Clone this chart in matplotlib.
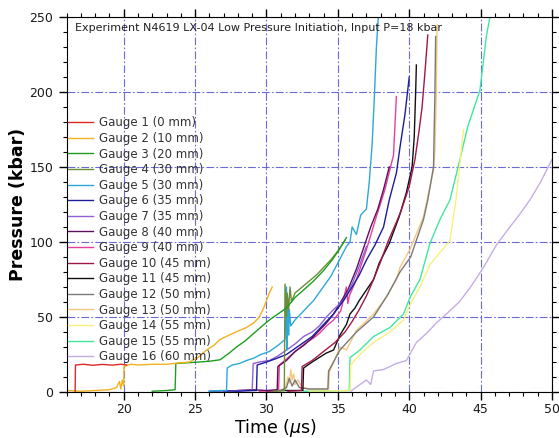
import numpy as np
import matplotlib
matplotlib.use('Agg')
import matplotlib.pyplot as plt
from matplotlib.ticker import MultipleLocator

# gauge records (time in us, pressure in kbar)
g1_t = [16.6, 16.62, 17.2, 17.8, 18.5, 19.2, 19.8, 20.2]
g1_p = [0.5, 18, 18.5, 17.8, 18.4, 17.9, 18.5, 18]

g2_t = [16.0, 17.0, 18.0, 19.0, 19.5, 19.7, 19.8, 19.9, 20.0, 20.02, 20.5, 21.0, 22.0, 23.0, 24.0, 24.6,
        25.2, 25.8, 26.3, 26.75, 27.4, 28.1, 28.6, 29.1, 29.5, 29.8, 30.0, 30.2, 30.4]
g2_p = [1, 0.5, 1, 1.5, 3, 7, 2, 8, 4, 17, 18.5, 18, 18.5, 18.5, 19.5, 20,
        23, 28, 31, 35, 38, 41, 43, 46, 50, 56, 61, 66, 70]

g3_t = [22.0, 23.0, 23.6, 23.65, 24.5, 25.3, 26.0, 26.75, 27.4, 27.9, 28.5, 29.1, 29.7, 30.2, 30.8,
        31.4, 32.0, 32.6, 33.3, 34.0, 34.6, 35.1, 35.6]
g3_p = [0.5, 1, 1.5, 19, 19.5, 20, 20.5, 21.5, 26, 30, 34, 39, 44, 48, 52,
        56, 63, 68, 74, 81, 88, 95, 103]

g4_t = [30.5, 31.25, 31.3, 31.4, 31.45, 31.55, 31.65, 31.75, 32.0, 32.5, 33.0, 33.5, 34.0, 34.5, 35.0, 35.5]
g4_p = [0.5, 1, 72, 50, 66, 55, 70, 60, 66, 70, 74, 78, 83, 88, 94, 101]

g5_t = [26.0, 26.8, 27.2, 27.25, 27.6, 28.1, 28.6, 29.1, 29.6, 30.2, 30.8, 31.3, 31.4, 31.45, 31.5,
        31.55, 31.6, 31.7, 32.0, 32.6, 33.3, 33.9, 34.5, 35.0, 35.6, 35.85, 36.0, 36.3, 36.6, 37.0,
        37.2, 37.4, 37.55, 37.7, 37.85]
g5_p = [0.5, 1, 1, 16, 18, 19, 21, 22.5, 25, 27, 31, 35, 70, 28, 62,
        38, 55, 44, 48, 54, 61, 69, 77, 86, 97, 100, 110, 105, 118, 122,
        140, 165, 195, 230, 252]

g6_t = [26.0, 27.0, 28.0, 29.0, 29.3, 29.35, 30.0, 30.6, 31.4, 32.0, 32.6, 33.2, 33.7, 34.2, 34.7,
        35.4, 36.0, 36.5, 37.0, 37.6, 38.2, 38.6, 39.1, 39.35, 39.7, 40.0]
g6_p = [0.5, 0.8, 0.5, 1, 1, 18, 20, 22, 25, 29, 33, 37, 42, 47, 52,
        61, 70, 78, 88, 98, 110, 128, 146, 163, 185, 210]

g7_t = [27.0, 28.0, 29.0, 29.07, 29.5, 30.2, 30.8, 31.4, 32.0, 32.6, 33.2, 33.7, 34.2, 34.7, 35.4,
        36.0, 36.5, 37.0]
g7_p = [0.5, 1, 1, 19, 20, 21, 24, 28, 32, 37, 40, 44, 50, 55, 61,
        72, 84, 97]

g8_t = [28.0, 29.0, 30.0, 30.75, 30.8, 31.4, 32.0, 32.6, 33.2, 33.7, 34.2, 34.7, 35.2, 35.7, 36.3,
        36.8, 37.3, 37.8, 38.2, 38.6]
g8_p = [1, 1.5, 1, 1.5, 17, 21, 27, 31, 36, 41, 46, 52, 60, 68, 82,
        96, 110, 122, 135, 150]

g9_t = [29.5, 30.85, 30.9, 31.4, 31.9, 32.4, 32.8, 33.3, 33.7, 34.2, 34.7, 35.2, 35.6, 35.7, 35.8,
        36.3, 37.0, 37.7, 38.3, 38.9, 39.0, 39.1]
g9_p = [0.5, 1, 18, 22, 26, 30, 33, 36, 39, 44, 48, 54, 70, 59, 64,
        75, 95, 117, 135, 158, 178, 197]

g10_t = [31.5, 32.45, 32.5, 33.2, 34.0, 34.8, 35.5, 36.0, 36.5, 37.0, 37.5, 38.0, 38.5, 39.0, 39.4,
         40.0, 40.4, 40.7, 40.9, 41.1, 41.3]
g10_p = [0.5, 1, 17, 21, 27, 33, 40, 47, 55, 64, 75, 87, 100, 111, 120,
         137, 155, 175, 190, 213, 238]

g11_t = [30.0, 31.0, 32.55, 32.6, 33.2, 33.7, 34.2, 34.7, 35.15, 35.6, 35.85, 36.2, 36.5, 37.0, 37.5,
         37.9, 38.6, 39.3, 39.8, 40.2, 40.35, 40.45, 40.5]
g11_p = [0.5, 1, 1, 16, 20, 23, 26, 28, 38, 45, 52, 56, 61, 68, 75,
         86, 99, 117, 133, 150, 170, 200, 218]

g12_t = [31.0, 31.4, 31.6, 31.8, 32.0, 32.3, 33.0, 34.3, 34.35, 35.15, 36.3, 37.5, 38.5, 39.35, 40.1,
         41.0, 41.3, 41.7, 41.8, 41.85]
g12_p = [1, 3, 9, 4, 8, 3, 2, 2, 14, 28, 40, 50, 65, 80, 90,
         115, 128, 150, 200, 237]

g13_t = [31.0, 31.3, 31.5, 31.6, 31.7, 31.8, 31.9, 32.0, 32.2, 32.5, 33.0, 34.0, 34.35, 34.4, 35.15,
         35.6, 36.3, 37.5, 38.4, 39.1, 39.35, 40.05, 41.0, 41.7, 41.8, 41.9, 41.95]
g13_p = [1, 2, 10, 6, 15, 8, 12, 5, 8, 3, 2, 2, 2, 13, 30,
         28, 41, 52, 63, 75, 83, 95, 117, 148, 161, 200, 245]

g14_t = [33.0, 35.85, 35.9, 36.55, 37.5, 38.65, 39.6, 40.05, 40.75, 41.45, 41.9, 42.85, 43.3, 43.8]
g14_p = [0.5, 1, 18, 25, 33, 40, 48, 58, 70, 85, 90, 101, 130, 175]

g15_t = [32.6, 35.8, 35.85, 36.55, 37.5, 38.65, 39.6, 40.05, 40.75, 41.45, 42.15, 42.85, 43.55, 44.1,
         44.95, 45.4, 45.65]
g15_p = [0.5, 1, 23, 28, 37, 43, 52, 63, 75, 99, 115, 128, 155, 177,
         201, 237, 250]

g16_t = [35.9, 36.4, 37.0, 37.3, 37.5, 38.2, 39.1, 39.8, 40.5, 41.2, 41.9, 42.6, 43.5, 44.3, 45.2,
         46.1, 47.05, 47.7, 48.45, 49.2, 50.0]
g16_p = [0.5, 4, 8, 5, 14, 15, 19, 21, 33, 39, 46, 52, 60, 70, 83,
         98, 110, 118, 128, 140, 155]

labels = ["Gauge 1 (0 mm)", "Gauge 2 (10 mm)", "Gauge 3 (20 mm)", "Gauge 4 (30 mm)",
          "Gauge 5 (30 mm)", "Gauge 6 (35 mm)", "Gauge 7 (35 mm)", "Gauge 8 (40 mm)",
          "Gauge 9 (40 mm)", "Gauge 10 (45 mm)", "Gauge 11 (45 mm)", "Gauge 12 (50 mm)",
          "Gauge 13 (50 mm)", "Gauge 14 (55 mm)", "Gauge 15 (55 mm)", "Gauge 16 (60 mm)"]

colors = ['#e02828', '#f2b21e', '#1e9e1e', '#6b8e3a', '#2ea8d8', '#1c1c9c', '#8f5fd8', '#5c0f5c',
          '#e8409a', '#a01848', '#101010', '#7a7a7a', '#f5c880', '#f8f07a', '#3fe89c', '#c4aee6']

times = [g1_t, g2_t, g3_t, g4_t, g5_t, g6_t, g7_t, g8_t, g9_t, g10_t, g11_t, g12_t, g13_t, g14_t, g15_t, g16_t]
press = [g1_p, g2_p, g3_p, g4_p, g5_p, g6_p, g7_p, g8_p, g9_p, g10_p, g11_p, g12_p, g13_p, g14_p, g15_p, g16_p]

fig = plt.figure(figsize=(5.59, 4.38), dpi=100)
ax = fig.add_axes([66.6/559, 46/438, 485.4/559, 375/438])

# draw from last to first so early gauges sit on top
for i in range(len(times)-1, -1, -1):
    ax.plot(times[i], press[i], color=colors[i], lw=1.0, label=labels[i])

ax.set_xlim(16, 50)
ax.set_ylim(0, 250)

ax.xaxis.set_major_locator(MultipleLocator(5))
ax.xaxis.set_minor_locator(MultipleLocator(1))
ax.yaxis.set_major_locator(MultipleLocator(50))
ax.yaxis.set_minor_locator(MultipleLocator(10))
ax.tick_params(which='both', direction='out', top=True, right=True, labeltop=False, labelright=False,
               labelsize=9, labelcolor='#1a1a1a')
ax.tick_params(which='major', length=6, width=1)
ax.tick_params(which='minor', length=3, width=0.8)
ax.tick_params(axis='x', pad=2)
ax.set_xticks([20, 25, 30, 35, 40, 45, 50])
ax.set_yticks([0, 50, 100, 150, 200, 250])

ax.grid(True, which='major', color='#6a6ad8', lw=0.8, linestyle=(0, (7, 2, 1.5, 2)))

ax.set_xlabel("Time ($\\mu$s)", fontsize=12.5)
ax.xaxis.set_label_coords(0.43, -0.067)
ax.set_ylabel("Pressure (kbar)", fontsize=12.5, fontweight='bold', labelpad=2)

ax.text(0.017, 0.971, "Experiment N4619 LX-04 Low Pressure Initiation, Input P=18 kbar",
        transform=ax.transAxes, fontsize=8, color='#222222', va='center', ha='left')

h, l = ax.get_legend_handles_labels()
ax.legend(h[::-1], l[::-1], loc='upper left', bbox_to_anchor=(0.003, 0.735), frameon=False,
          fontsize=8.5, handlelength=2.1, handletextpad=0.5, labelspacing=0.22,
          borderpad=0, borderaxespad=0, labelcolor='#333333')

plt.savefig("out.png", dpi=100)
